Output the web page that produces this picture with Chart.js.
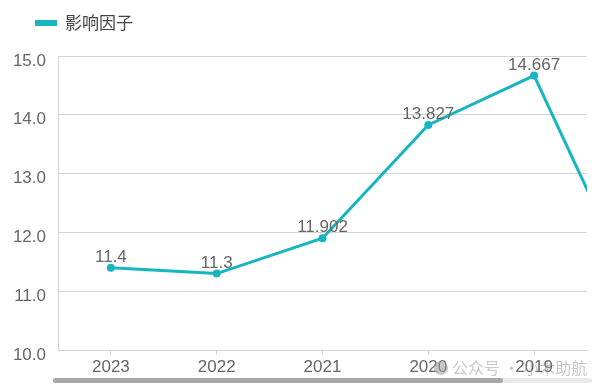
<!DOCTYPE html>
<html>
<head>
<meta charset="utf-8">
<script src="https://cdn.jsdelivr.net/npm/chart.js@4.4.1/dist/chart.umd.min.js"></script>
<style>
  html, body { margin: 0; padding: 0; background: #fff; }
  #wrap { width: 604px; height: 391px; position: relative; }
</style>
</head>
<body>
<div id="wrap"><canvas id="chart" width="604" height="391"></canvas></div>
<script>
// data
const years = ['2023', '2022', '2021', '2020', '2019', '2018'];
const factor = [11.4, 11.3, 11.902, 13.827, 14.667, 10.8];
const seriesName = '影响因子';
const lastVisibleIndex = 4; // the slider shows 2023..2019, the rest is scrolled off

const teal = '#17b5c0';
const textGray = '#666';
const gridGray = '#d4d4d4';

// value labels above the points
const pointLabels = {
    id: 'pointLabels',
    afterDatasetsDraw(chart) {
        const ctx = chart.ctx;
        const area = chart.chartArea;
        const meta = chart.getDatasetMeta(0);
        ctx.save();
        ctx.font = '17px "Liberation Sans", Arial, sans-serif';
        ctx.fillStyle = textGray;
        ctx.textAlign = 'center';
        ctx.textBaseline = 'alphabetic';
        meta.data.forEach((pt, i) => {
            if (!(pt.x >= area.left && pt.x <= area.right)) return;
            ctx.fillText(String(factor[i]), pt.x, pt.y - 6);
        });
        ctx.restore();
    }
};

// legend, zoom slider and watermark
const extras = {
    id: 'extras',
    afterDraw(chart) {
        const ctx = chart.ctx;
        ctx.save();
        // legend
        ctx.fillStyle = teal;
        ctx.fillRect(35, 20, 22, 6);
        ctx.fillStyle = '#444';
        ctx.font = '17px "Noto Sans CJK SC", sans-serif';
        ctx.textBaseline = 'middle';
        ctx.textAlign = 'left';
        ctx.fillText(seriesName, 65, 23);

        // slider
        ctx.fillStyle = '#ebe7eb';
        ctx.beginPath();
        ctx.roundRect(53, 378, 539, 5, 2.5);
        ctx.fill();
        ctx.fillStyle = '#a8a8a8';
        ctx.beginPath();
        ctx.roundRect(53, 378, 450, 5, 2.5);
        ctx.fill();

        // watermark
        ctx.globalAlpha = 0.55;
        ctx.fillStyle = '#999';
        ctx.beginPath();
        ctx.arc(441, 368, 7, 0, Math.PI * 2);
        ctx.fill();
        ctx.font = '16px "Noto Sans CJK SC", sans-serif';
        ctx.fillText('公众号 · 小木助航', 452, 368);
        ctx.restore();
    }
};

new Chart(document.getElementById('chart'), {
    type: 'line',
    data: {
        labels: years,
        datasets: [{
            label: seriesName,
            data: factor,
            borderColor: teal,
            backgroundColor: teal,
            borderWidth: 3,
            pointRadius: 4,
            pointBackgroundColor: teal,
            pointBorderWidth: 0,
            tension: 0,
            clip: 0
        }]
    },
    options: {
        responsive: false,
        animation: false,
        layout: {padding: {top: 56, right: 17, left: 0, bottom: 0}},
        plugins: {
            legend: {display: false},
            tooltip: {enabled: false}
        },
        scales: {
            x: {
                offset: true,
                grid: {drawOnChartArea: false, drawTicks: true, tickLength: 5, color: gridGray},
                border: {color: gridGray},
                ticks: {
                    color: textGray,
                    padding: 2,
                    maxRotation: 0,
                    font: {size: 17, family: '"Liberation Sans", Arial, sans-serif'}
                },
                // cut the window like the zoom slider does, without culling the line
                afterDataLimits(scale) { scale.max = lastVisibleIndex; },
                afterFit(scale) { scale.height = 41; }
            },
            y: {
                min: 10,
                max: 15,
                grid: {color: gridGray, drawTicks: false},
                border: {color: gridGray},
                ticks: {
                    stepSize: 1,
                    color: textGray,
                    padding: 12,
                    labelOffset: 5,
                    font: {size: 17, family: '"Liberation Sans", Arial, sans-serif'},
                    callback: v => v.toFixed(1)
                },
                afterFit(scale) { scale.width = 58; }
            }
        }
    },
    plugins: [pointLabels, extras]
});
</script>
</body>
</html>
